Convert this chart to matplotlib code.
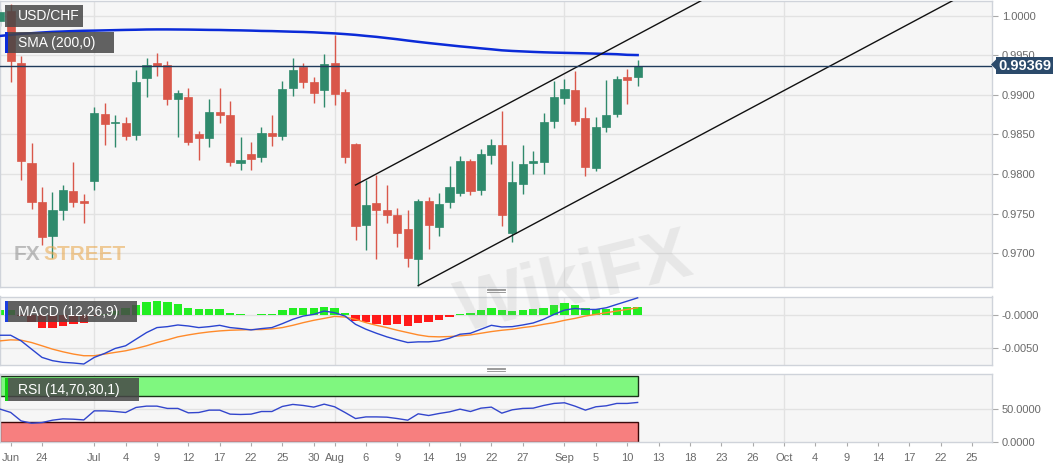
import matplotlib
matplotlib.use("Agg")
import matplotlib.pyplot as plt
import numpy as np
import pandas as pd
from matplotlib.patches import Rectangle, Polygon
from matplotlib.lines import Line2D
from matplotlib.transforms import Affine2D, blended_transform_factory

plt.rcParams['font.family'] = ['Liberation Sans', 'DejaVu Sans']

# ---------------- data ----------------
start_date = "2019-06-18"
symbol = "USD/CHF"
last_price = 0.99369

opens = [0.99933, 1.00059, 0.99408, 0.98142, 0.97651, 0.97214, 0.97542, 0.97785, 0.97655, 0.97910,
         0.98759, 0.98641, 0.98649, 0.98494, 0.99212, 0.99396, 0.99376, 0.98943, 0.98977, 0.98507,
         0.98457, 0.98788, 0.98746, 0.98137, 0.98255, 0.98212, 0.98523, 0.98477, 0.99086, 0.99354,
         0.99157, 0.99065, 0.99396, 0.99031, 0.98381, 0.97349, 0.97633, 0.97542, 0.97479, 0.97302,
         0.96929, 0.97659, 0.97331, 0.97646, 0.97759, 0.98158, 0.97802, 0.98243, 0.98369, 0.97256,
         0.97873, 0.98142, 0.98150, 0.98666, 0.98960, 0.99061, 0.98708, 0.98074, 0.98590, 0.98759,
         0.99225, 0.99220]
highs = [1.00084, 1.00151, 0.99493, 0.98389, 0.97835, 0.97772, 0.97856, 0.98150, 0.97752, 0.98842,
         0.98892, 0.98746, 0.98716, 0.99316, 0.99471, 0.99522, 0.99421, 0.99061, 0.99086, 0.98549,
         0.98948, 0.99086, 0.98926, 0.98473, 0.98410, 0.98599, 0.98746, 0.99178, 0.99471, 0.99396,
         0.99228, 0.99514, 0.99757, 0.99074, 0.98394, 0.97919, 0.97982, 0.97865, 0.97576, 0.97542,
         0.97689, 0.97709, 0.97759, 0.98099, 0.98221, 0.98192, 0.98318, 0.98444, 0.98792, 0.98162,
         0.98369, 0.98288, 0.98771, 0.99178, 0.99199, 0.99295, 0.98842, 0.98725, 0.99187, 0.99241,
         0.99325, 0.99439]
lows = [0.99870, 0.99157, 0.97919, 0.97563, 0.97101, 0.96934, 0.97424, 0.97583, 0.97382, 0.97802,
        0.98360, 0.98338, 0.98432, 0.98432, 0.98968, 0.99241, 0.98872, 0.98473, 0.98360, 0.98171,
        0.98338, 0.98641, 0.98095, 0.98054, 0.98045, 0.98150, 0.98351, 0.98423, 0.98980, 0.99086,
        0.98897, 0.98851, 0.98872, 0.98137, 0.97164, 0.97038, 0.96921, 0.97382, 0.97080, 0.96828,
        0.96590, 0.97047, 0.97214, 0.97576, 0.97722, 0.97739, 0.97730, 0.98129, 0.97344, 0.97143,
        0.97752, 0.98004, 0.98004, 0.98583, 0.98885, 0.98620, 0.97970, 0.98036, 0.98536, 0.98716,
        0.98885, 0.99115]
closes = [1.00050, 0.99430, 0.98158, 0.97642, 0.97198, 0.97550, 0.97802, 0.97651, 0.97633, 0.98766,
          0.98633, 0.98662, 0.98477, 0.99157, 0.99376, 0.99367, 0.98948, 0.99018, 0.98410, 0.98452,
          0.98779, 0.98746, 0.98150, 0.98180, 0.98192, 0.98520, 0.98477, 0.99074, 0.99316, 0.99157,
          0.99023, 0.99388, 0.99011, 0.98212, 0.97340, 0.97605, 0.97550, 0.97487, 0.97256, 0.96934,
          0.97659, 0.97349, 0.97626, 0.97835, 0.98167, 0.97785, 0.98250, 0.98369, 0.97479, 0.97894,
          0.98124, 0.98158, 0.98653, 0.98968, 0.99068, 0.98674, 0.98087, 0.98590, 0.98746, 0.99199,
          0.99191, 0.99369]
sma200 = [0.99744, 0.99757, 0.99770, 0.99778, 0.99787, 0.99795, 0.99800, 0.99805, 0.99809, 0.99811,
          0.99814, 0.99817, 0.99820, 0.99822, 0.99825, 0.99826, 0.99826, 0.99825, 0.99824, 0.99822,
          0.99820, 0.99819, 0.99816, 0.99814, 0.99811, 0.99807, 0.99805, 0.99801, 0.99797, 0.99794,
          0.99789, 0.99782, 0.99776, 0.99767, 0.99757, 0.99744, 0.99732, 0.99717, 0.99702, 0.99685,
          0.99669, 0.99654, 0.99640, 0.99626, 0.99612, 0.99600, 0.99587, 0.99575, 0.99562, 0.99554,
          0.99548, 0.99542, 0.99537, 0.99533, 0.99530, 0.99527, 0.99524, 0.99520, 0.99517, 0.99513,
          0.99505, 0.99502]

macd_line = [-0.00303, -0.00303, -0.00387, -0.00511, -0.00635, -0.00684, -0.00709, -0.00719, -0.00734, -0.00635,
             -0.00575, -0.00501, -0.00461, -0.00362, -0.00263, -0.00188, -0.00174, -0.00149, -0.00164, -0.00188,
             -0.00174, -0.00154, -0.00188, -0.00203, -0.00223, -0.00203, -0.00188, -0.00129, -0.00064, -0.00015,
             0.00010, 0.00060, 0.00035, -0.00015, -0.00139, -0.00213, -0.00273, -0.00327, -0.00372, -0.00412,
             -0.00402, -0.00402, -0.00387, -0.00347, -0.00288, -0.00273, -0.00213, -0.00154, -0.00179, -0.00174,
             -0.00149, -0.00119, -0.00064, 0.00010, 0.00074, 0.00099, 0.00084, 0.00084, 0.00109, 0.00159,
             0.00208, 0.00258]
macd_signal = [-0.00387, -0.00372, -0.00377, -0.00412, -0.00461, -0.00511, -0.00551, -0.00585, -0.00610, -0.00610,
               -0.00585, -0.00560, -0.00536, -0.00501, -0.00461, -0.00412, -0.00372, -0.00327, -0.00298, -0.00273,
               -0.00253, -0.00238, -0.00228, -0.00223, -0.00218, -0.00218, -0.00208, -0.00188, -0.00154, -0.00114,
               -0.00079, -0.00050, -0.00020, -0.00030, -0.00064, -0.00114, -0.00154, -0.00188, -0.00228, -0.00263,
               -0.00298, -0.00322, -0.00327, -0.00322, -0.00312, -0.00298, -0.00273, -0.00248, -0.00228, -0.00213,
               -0.00188, -0.00169, -0.00139, -0.00114, -0.00079, -0.00050, -0.00015, 0.00010, 0.00035, 0.00060,
               0.00084, 0.00109]
macd_hist = [0.00080, 0.00070, -0.00010, -0.00099, -0.00189, -0.00189, -0.00169, -0.00139, -0.00114, -0.00020,
             0.00010, 0.00060, 0.00099, 0.00149, 0.00198, 0.00218, 0.00198, 0.00169, 0.00109, 0.00094,
             0.00084, 0.00084, 0.00035, 0.00010, 0.00005, 0.00010, 0.00020, 0.00069, 0.00099, 0.00109,
             0.00109, 0.00120, 0.00099, 0.00025, -0.00089, -0.00099, -0.00129, -0.00149, -0.00139, -0.00164,
             -0.00114, -0.00099, -0.00070, -0.00025, 0.00020, 0.00025, 0.00074, 0.00099, 0.00074, 0.00060,
             0.00074, 0.00084, 0.00109, 0.00149, 0.00174, 0.00149, 0.00099, 0.00084, 0.00084, 0.00109,
             0.00119, 0.00124]
rsi = [50.0, 45.0, 32.1, 28.6, 29.6, 33.2, 35.2, 34.7, 33.6, 47.4,
       47.4, 46.4, 44.9, 52.6, 54.6, 54.6, 51.1, 51.1, 44.4, 44.9,
       48.5, 48.5, 42.4, 41.9, 42.4, 46.4, 46.4, 54.1, 57.2, 55.6,
       53.1, 57.6, 53.6, 44.9, 35.7, 38.2, 38.2, 37.8, 35.7, 33.2,
       42.9, 40.3, 43.4, 45.9, 50.0, 46.4, 51.5, 53.1, 43.9, 49.0,
       51.1, 51.5, 55.6, 58.7, 59.7, 54.6, 48.5, 53.6, 55.1, 58.7,
       58.7, 60.2]

tick_dates = ["2019-06-19", "2019-06-24", "2019-07-01", "2019-07-04", "2019-07-09", "2019-07-12",
              "2019-07-17", "2019-07-22", "2019-07-25", "2019-07-30", "2019-08-01", "2019-08-06",
              "2019-08-09", "2019-08-14", "2019-08-19", "2019-08-22", "2019-08-27", "2019-09-02",
              "2019-09-05", "2019-09-10", "2019-09-13", "2019-09-18", "2019-09-23", "2019-09-26",
              "2019-10-01", "2019-10-04", "2019-10-09", "2019-10-14", "2019-10-17", "2019-10-22",
              "2019-10-25"]
tick_labels = ["Jun", "24", "Jul", "4", "9", "12", "17", "22", "25", "30", "Aug", "6", "9", "14",
               "19", "22", "27", "Sep", "5", "10", "13", "18", "23", "26", "Oct", "4", "9", "14",
               "17", "22", "25"]
month_starts = ["2019-07-01", "2019-08-01", "2019-09-02", "2019-10-01"]
channel_upper = [("2019-08-05", 0.97860), ("2019-09-11", 0.99761)]
channel_lower = [("2019-08-13", 0.96590), ("2019-09-11", 0.98068)]

price_ticks = [0.9700, 0.9750, 0.9800, 0.9850, 0.9900, 0.9950, 1.0000]
macd_ticks = [-0.0050, 0.0]
macd_tick_labels = ["-0.0050", "-0.0000"]
rsi_ticks = [0.0, 50.0]
rsi_tick_labels = ["0.0000", "50.0000"]

# ---------------- calendar ----------------
cal = pd.bdate_range(start_date, periods=130)
def bar_index(d):
    return cal.get_loc(pd.Timestamp(d))

n = len(closes)
xs = np.arange(n)
o = np.array(opens); h = np.array(highs); l = np.array(lows); c = np.array(closes)

# ---------------- figure ----------------
W, H = 1063, 469
fig = plt.figure(figsize=(W / 100, H / 100), dpi=100)
fig.patch.set_facecolor('white')
pix = Affine2D().scale(1.0 / W, -1.0 / H).translate(0, 1) + fig.transFigure

def rect(left, top, right, bottom):
    return [left / W, 1 - bottom / H, (right - left) / W, (bottom - top) / H]

ax = fig.add_axes(rect(0, 1, 992, 287))
axm = fig.add_axes(rect(0, 296.5, 992, 365), sharex=ax)
axr = fig.add_axes(rect(0, 374, 992, 442), sharex=ax)

BG = '#f6f6f6'
GRID = '#e2e2e2'
SPINE = '#cfd3da'
GREEN = '#2f8a6c'
RED = '#d9574a'

for a in (ax, axm, axr):
    a.set_facecolor(BG)
    for s in a.spines.values():
        s.set_color(SPINE)
        s.set_linewidth(1)
    a.yaxis.tick_right()
    a.tick_params(axis='y', which='both', length=4, color='#aaaaaa', labelcolor='#6a6a6a',
                  labelsize=8, pad=3, left=False, right=True)
    for d in month_starts:
        a.axvline(bar_index(d), color=GRID, lw=1, zorder=0)

# ---------------- main panel ----------------
ax.set_xlim(-0.02, 94.91)
ax.set_ylim(0.96572, 1.00185)
ax.set_yticks(price_ticks)
ax.set_yticklabels([f"{v:.4f}" for v in price_ticks])
for v in price_ticks:
    ax.axhline(v, color=GRID, lw=1, zorder=0)

up = c >= o
colors = np.where(up, GREEN, RED)
ax.vlines(xs, l, h, colors=colors, lw=1, zorder=2)
body_lo = np.minimum(o, c)
body_h = np.maximum(np.abs(c - o), 0.00003)
ax.bar(xs, body_h, bottom=body_lo, width=0.78, color=colors, edgecolor=colors, lw=0.5, zorder=3)

ax.plot(xs, sma200, color='#0b2bd8', lw=1.8, zorder=4)

for pts in (channel_upper, channel_lower):
    (d1, p1), (d2, p2) = pts
    x1, x2 = bar_index(d1), bar_index(d2)
    slope = (p2 - p1) / (x2 - x1)
    xe = 110
    ax.plot([x1, xe], [p1, p1 + slope * (xe - x1)], color='#111111', lw=1, zorder=5)

ax.axhline(last_price, color='#1f3b5c', lw=1, zorder=5)
ax.tick_params(axis='x', which='both', bottom=False, labelbottom=False)

# price box (covers the 0.9950 label, as in the reference)
tr = blended_transform_factory(ax.transAxes, ax.transData)
ax.text(1.0 + 6 / 992, last_price, f"{last_price:.5f}", transform=tr, ha='left', va='center',
        color='white', fontsize=10.5, fontweight='bold', clip_on=False, zorder=20,
        bbox=dict(boxstyle='square,pad=0.12', fc='#2b4a6b', ec='none'))
fig.add_artist(Polygon([(991, 64.5), (997, 58.5), (997, 70.5)], closed=True, transform=pix,
                       fc='#2b4a6b', ec='none'))

# ---------------- MACD panel ----------------
axm.set_ylim(-0.00749, 0.00278)
axm.set_yticks(macd_ticks)
axm.set_yticklabels(macd_tick_labels)
for v in macd_ticks:
    axm.axhline(v, color=GRID, lw=1, zorder=0)
hist = np.array(macd_hist)
axm.bar(xs, hist, width=0.8, color=np.where(hist >= 0, '#22ee22', '#ff1a1a'), zorder=2)
axm.plot(xs, macd_signal, color='#ff8a2a', lw=1, zorder=3)
axm.plot(xs, macd_line, color='#2a44d0', lw=1, zorder=4)
axm.tick_params(axis='x', which='both', bottom=False, labelbottom=False)

# ---------------- RSI panel ----------------
axr.set_ylim(0, 103.5)
axr.set_yticks(rsi_ticks)
axr.set_yticklabels(rsi_tick_labels)
axr.axhline(50, color=GRID, lw=1, zorder=0)
x0 = -0.02
axr.add_patch(Rectangle((x0, 70), n - 1 - x0, 30, fc='#7ff77f', ec='#1b331b', lw=1, zorder=1))
axr.add_patch(Rectangle((x0, 0), n - 1 - x0, 30, fc='#f77f7f', ec='#3a0808', lw=1, zorder=1))
axr.plot(xs, rsi, color='#3346cc', lw=1, zorder=3)

axr.set_xticks([bar_index(d) for d in tick_dates])
axr.set_xticklabels(tick_labels)
axr.tick_params(axis='x', which='both', length=3, color='#aaaaaa', labelcolor='#6a6a6a',
                labelsize=8, pad=5)

# ---------------- overlay labels ----------------
def label_box(x0p, y0p, x1p, y1p, text, marker=None):
    fig.add_artist(Rectangle((x0p, y0p), x1p - x0p, y1p - y0p, transform=pix,
                             fc='#474747', ec='none', alpha=0.85, zorder=5))
    if marker:
        fig.add_artist(Rectangle((x0p, y0p), 2.5, y1p - y0p, transform=pix,
                                 fc=marker, ec='none', zorder=6))
    fig.text(18, (y0p + y1p) / 2 + 0.5, text, transform=pix, color='white', fontsize=10,
             va='center', ha='left', zorder=7)

label_box(5, 5, 83, 27, symbol)
label_box(5, 32, 114, 53, "SMA (200,0)", marker='#0b2bd8')
label_box(5, 301, 137, 322, "MACD (12,26,9)", marker='#1a3de0')
label_box(5, 378, 139, 401, "RSI (14,70,30,1)", marker='#10d010')

# panel grips
for yy in (290.5, 369.5):
    for k in range(3):
        fig.add_artist(Line2D([487, 505], [yy - 1.5 + 1.5 * k] * 2, transform=pix,
                              color='#8a8a8a', lw=0.6))

# watermarks
fig.text(14, 254, "FX", transform=pix, color='#8c8c8c', alpha=0.55, fontsize=15,
         fontweight='bold', va='center', ha='left', zorder=3)
fig.text(43, 254, "STREET", transform=pix, color='#e9a545', alpha=0.55, fontsize=15,
         fontweight='bold', va='center', ha='left', zorder=3)
fig.text(575, 285, "WikiFX", transform=pix, color='#9a9a9a', alpha=0.16, fontsize=52,
         fontweight='bold', va='center', ha='center', rotation=14, zorder=3)

fig.savefig("out.png", dpi=100, facecolor='white')
